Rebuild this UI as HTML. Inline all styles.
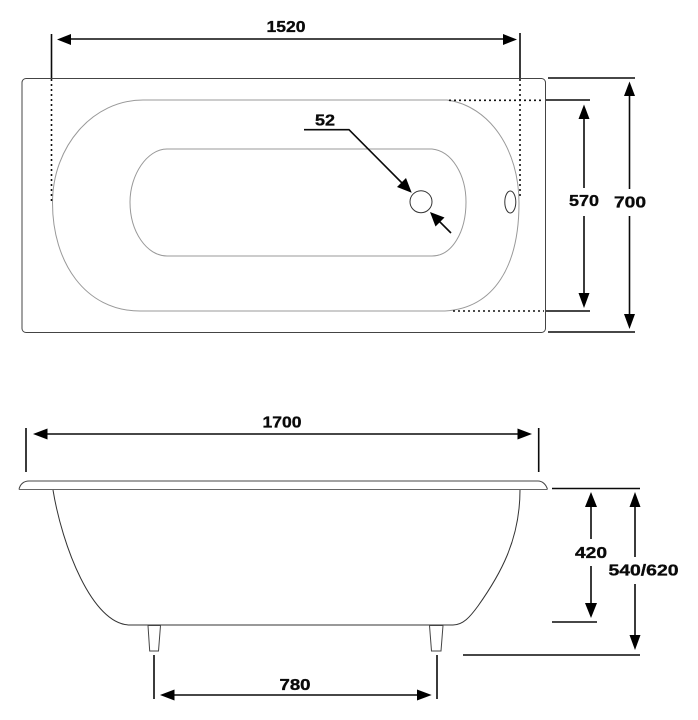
<!DOCTYPE html>
<html>
<head>
<meta charset="utf-8">
<style>
html,body{margin:0;padding:0;background:#fff;}
svg{display:block;}
text{font-family:"Liberation Sans",sans-serif;font-weight:bold;font-size:16px;fill:#0a0a0a;text-anchor:middle;stroke:#0a0a0a;stroke-width:.35px;}
</style>
</head>
<body>
<svg width="698" height="720" viewBox="0 0 698 720" xmlns="http://www.w3.org/2000/svg">
<rect width="698" height="720" fill="#fff"/>
<!-- top view -->
<rect x="22" y="78.5" width="523.5" height="254" rx="4" fill="none" stroke="#444" stroke-width="1"/>
<path d="M143 100 H447 C490 106 519 150 519 203 C519 265 495 308 445 311 H140 C85 311 52.5 262 52.5 203 C52.5 146 93 100 143 100 Z" fill="none" stroke="#999" stroke-width="1"/>
<path d="M167 149 H432 C452 151 466 175 466 202 C466 232 452 256 432 256 H167 C147 256 130 232 130 202 C130 175 147 149 167 149 Z" fill="none" stroke="#999" stroke-width="1"/>
<circle cx="421" cy="201.7" r="11" fill="#fff" stroke="#333" stroke-width="1"/>
<ellipse cx="510.3" cy="202" rx="5.5" ry="11" fill="#fff" stroke="#333" stroke-width="1"/>
<!-- dotted -->
<g fill="none" stroke="#111" stroke-width="1.6" stroke-dasharray="2 3">
<path d="M51.5 79 V202"/>
<path d="M520 79 V197"/>
<path d="M449 100.3 H544"/>
<path d="M453 311 H544"/>
</g>
<!-- dimension lines -->
<g fill="none" stroke="#0a0a0a" stroke-width="1.6">
<path d="M51.5 34 V78"/><path d="M520 33 V78"/>
<path d="M70 39 H504"/>
<path d="M548 78 H635"/><path d="M548 332 H635"/>
<path d="M629.5 95 V189"/><path d="M629.5 216 V315"/>
<path d="M546 100 H590"/><path d="M546 311 H590"/>
<path d="M584 117 V188"/><path d="M584 216 V296"/>
<path d="M304 129.7 H349 L402 183"/>
<path d="M451 233 L438 220"/>
</g>
<g fill="#000" stroke="none">
<polygon points="57,39.5 71,34 71,45"/>
<polygon points="517,39.5 503,34 503,45"/>
<polygon points="629.5,81.5 624,96 635,96"/>
<polygon points="629.5,329 624,314 635,314"/>
<polygon points="584,104.5 578.5,119 589.5,119"/>
<polygon points="584,308 578.5,293 589.5,293"/>
<polygon points="411.7,192.7 397,187 406,178"/>
<polygon points="430,212 444.5,217.5 435.5,226.5"/>
</g>
<text x="286" y="32" textLength="39" lengthAdjust="spacingAndGlyphs">1520</text>
<text x="325" y="125.5" textLength="20" lengthAdjust="spacingAndGlyphs">52</text>
<text x="584" y="206" textLength="30" lengthAdjust="spacingAndGlyphs">570</text>
<text x="630" y="207.5" textLength="32" lengthAdjust="spacingAndGlyphs">700</text>
<!-- side view -->
<path d="M19 489.5 C20 484 24 481 29 481 H538 C542 481 546 484 547.5 489.5" fill="none" stroke="#444" stroke-width="1"/>
<path d="M19 489.5 H547" fill="none" stroke="#666" stroke-width="1"/>
<path d="M53 490 C62 545 92 625 130 625 H453 C463 625 470 617 478 606 C500 575 520 540 520 490" fill="none" stroke="#333" stroke-width="1"/>
<path d="M148 625.5 L149.7 651 H158.5 L160.5 625.5 Z" fill="#fff" stroke="#444" stroke-width="1"/>
<path d="M429.5 625.5 L431.5 651 H441 L443 625.5 Z" fill="#fff" stroke="#444" stroke-width="1"/>
<g fill="none" stroke="#0a0a0a" stroke-width="1.6">
<path d="M26 428 V472"/><path d="M538.7 428 V472"/>
<path d="M46 434 H520"/>
<path d="M154 655 V699"/><path d="M437 655 V699"/>
<path d="M173 695 H419"/>
<path d="M552 488.5 H640"/><path d="M552 622 H597"/><path d="M463 655 H640"/>
<path d="M591 505 V539"/><path d="M591 566 V606"/>
<path d="M635 505 V557"/><path d="M635 584 V638"/>
</g>
<g fill="#000" stroke="none">
<polygon points="33,434 47.5,428.5 47.5,439.5"/>
<polygon points="532,434 517.5,428.5 517.5,439.5"/>
<polygon points="160,695 174.5,689.5 174.5,700.5"/>
<polygon points="431.7,695 417,689.5 417,700.5"/>
<polygon points="591,492 585,507 597,507"/>
<polygon points="591,618 585,603 597,603"/>
<polygon points="635,492 629.5,507 640.5,507"/>
<polygon points="635,650 629.5,635 640.5,635"/>
</g>
<text x="282" y="427.5" textLength="39" lengthAdjust="spacingAndGlyphs">1700</text>
<text x="295" y="690" textLength="31" lengthAdjust="spacingAndGlyphs">780</text>
<text x="591" y="558" textLength="32" lengthAdjust="spacingAndGlyphs">420</text>
<text x="643.5" y="575.5" textLength="70" lengthAdjust="spacingAndGlyphs">540/620</text>
</svg>
</body>
</html>
